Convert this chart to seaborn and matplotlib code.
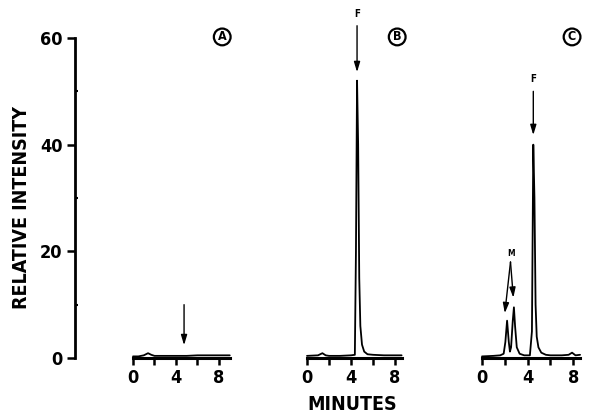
import matplotlib
matplotlib.use("Agg")
import matplotlib.pyplot as plt
import seaborn as sns
import pandas as pd

# ---- data (time in minutes, relative intensity) ----
time_a = [0, 0.5, 1.0, 1.4, 1.7, 2.0, 3.0, 4.0, 5.0, 6.0, 7.0, 8.0, 9.0]
int_a = [0.3, 0.3, 0.5, 0.9, 0.6, 0.4, 0.4, 0.4, 0.4, 0.5, 0.5, 0.5, 0.5]

time_b = [0, 1.0, 1.4, 1.7, 2.0, 3.0, 4.0, 4.35, 4.45, 4.55, 4.65, 4.75, 4.85,
          5.0, 5.2, 5.5, 6.0, 7.0, 8.0, 8.6]
int_b = [0.4, 0.5, 0.9, 0.5, 0.4, 0.4, 0.5, 0.6, 20, 52, 40, 15, 6,
         2.5, 1.2, 0.7, 0.6, 0.5, 0.5, 0.5]

time_c = [0, 1.0, 1.6, 1.9, 2.05, 2.2, 2.35, 2.45, 2.55, 2.7, 2.8, 2.9, 3.05,
          3.3, 3.7, 4.2, 4.38, 4.5, 4.6, 4.7, 4.8, 4.95, 5.2, 5.6, 6.0, 7.0,
          7.6, 7.9, 8.2, 8.6]
int_c = [0.3, 0.4, 0.5, 0.8, 3, 7, 3, 1.2, 2, 7, 9.5, 6, 2,
         0.8, 0.5, 0.5, 5, 40, 30, 10, 4, 2, 1, 0.6, 0.5, 0.5,
         0.6, 1.0, 0.5, 0.6]

panel_letters = ["A", "B", "C"]
x_ticks = [0, 2, 4, 6, 8]
x_ticklabels = ["0", "", "4", "", "8"]
y_ticks = [0, 20, 40, 60]
y_minor = [10, 30, 50]
y_label = "RELATIVE INTENSITY"
x_label = "MINUTES"

sns.set_style("ticks")
plt.rcParams["font.family"] = ["DejaVu Sans"]
plt.rcParams["font.stretch"] = "condensed"
plt.rcParams["font.weight"] = "bold"
plt.rcParams["text.color"] = "black"
plt.rcParams["xtick.color"] = "black"
plt.rcParams["ytick.color"] = "black"
plt.rcParams["axes.edgecolor"] = "black"

W, H = 590, 415
fig = plt.figure(figsize=(W / 100, H / 100), dpi=100)

ppu = 320 / 60.0          # pixels per intensity unit
y0_px = 358               # pixel row of intensity 0
bot_px = 372
ymin = -(bot_px - y0_px) / ppu
ymax = y0_px / ppu
ax_bottom = 1 - bot_px / H
ax_height = bot_px / H

# (pixel of x=0, pixels per minute, xmin, xmax, axis end)
geom = [(133, 10.75, -5.4, 9.6, 9.0),
        (307, 11.0, -1.0, 9.6, 8.6),
        (482, 11.4, -1.0, 9.2, 8.6)]

series = [(time_a, int_a), (time_b, int_b), (time_c, int_c)]
axes = []
for i, ((x0, ppm, xmn, xmx, xend), (t, y)) in enumerate(zip(geom, series)):
    left = (x0 + xmn * ppm) / W
    width = (xmx - xmn) * ppm / W
    ax = fig.add_axes([left, ax_bottom, width, ax_height])
    ax.patch.set_alpha(0)
    df = pd.DataFrame({"t": t, "y": y})
    sns.lineplot(data=df, x="t", y="y", ax=ax, color="black", lw=1.3,
                 estimator=None, sort=False)
    ax.set_xlim(xmn, xmx)
    ax.set_ylim(ymin, ymax)
    ax.set_xlabel("")
    ax.set_ylabel("")
    for s in ["top", "right"]:
        ax.spines[s].set_visible(False)
    ax.spines["bottom"].set_position(("data", 0))
    ax.spines["bottom"].set_bounds(0, xend)
    ax.spines["bottom"].set_linewidth(2.2)
    ax.set_xticks(x_ticks)
    ax.set_xticklabels(x_ticklabels)
    ax.tick_params(axis="x", direction="out", length=5, width=1.8,
                   labelsize=13, pad=3)
    if i == 0:
        ax.spines["left"].set_bounds(0, 60)
        ax.spines["left"].set_linewidth(2.0)
        ax.set_yticks(y_ticks)
        ax.set_yticks(y_minor, minor=True)
        ax.tick_params(axis="y", which="major", direction="out", length=6,
                       width=1.8, labelsize=13, pad=3)
        ax.tick_params(axis="y", which="minor", direction="in", length=2.5,
                       width=1.5)
    else:
        ax.spines["left"].set_visible(False)
        ax.set_yticks([])
    for lab in ax.get_xticklabels() + ax.get_yticklabels():
        lab.set_fontweight("bold")
        lab.set_fontstretch("condensed")
    axes.append(ax)

axA, axB, axC = axes

# circled panel letters
letter_pos = [(8.3, 60.2), (8.2, 60.2), (7.9, 60.2)]
for ax, letter, (lx, ly) in zip(axes, panel_letters, letter_pos):
    ax.text(lx, ly, letter, ha="center", va="center", fontsize=9,
            fontweight="bold",
            bbox=dict(boxstyle="circle,pad=0.15", fc="white", ec="black",
                      lw=1.6))

arrow = dict(arrowstyle="-|>,head_length=0.6,head_width=0.18", color="black",
             lw=1.0, mutation_scale=10, shrinkA=0, shrinkB=0)

# A: unlabeled arrow
axA.annotate("", xy=(4.75, 2.4), xytext=(4.75, 10.0), arrowprops=arrow)
# B: F arrow
axB.text(4.55, 64.5, "F", ha="center", va="center", fontsize=7,
         fontweight="bold")
axB.annotate("", xy=(4.55, 53.6), xytext=(4.55, 62.3), arrowprops=arrow)
# C: F arrow
axC.text(4.5, 52.3, "F", ha="center", va="center", fontsize=7,
         fontweight="bold")
axC.annotate("", xy=(4.5, 41.8), xytext=(4.5, 50.0), arrowprops=arrow)
# C: M arrows
axC.text(2.55, 19.6, "M", ha="center", va="center", fontsize=6,
         fontweight="bold")
axC.annotate("", xy=(2.0, 8.4), xytext=(2.5, 18.0), arrowprops=arrow)
axC.annotate("", xy=(2.75, 11.3), xytext=(2.5, 18.0), arrowprops=arrow)

fig.text(22 / W, 1 - 207 / H, y_label, rotation=90, ha="center", va="center",
         fontsize=14, fontweight="bold", fontstretch="condensed")
fig.text(352 / W, 1 - 404 / H, x_label, ha="center", va="center",
         fontsize=14, fontweight="bold", fontstretch="condensed")

fig.savefig("out.png", dpi=100)
